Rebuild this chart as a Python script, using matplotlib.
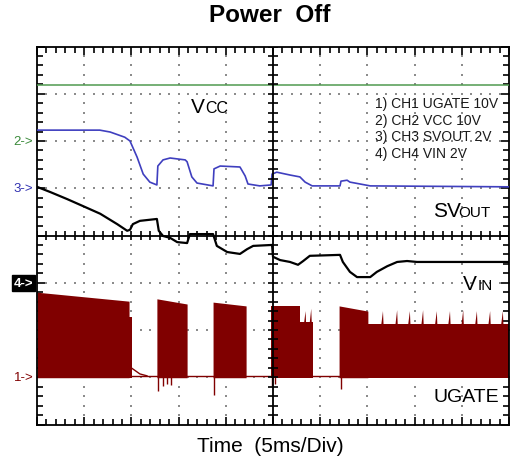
import numpy as np
import matplotlib.pyplot as plt

plt.rcParams['font.family'] = ['Liberation Sans', 'DejaVu Sans']

# time axis in divisions (5ms/div), levels in screen divisions (8 high)
green_level = 7.19

# CH2 VCC (blue)
blue_t = [0, 1.33, 1.55, 1.86, 1.97, 2.12, 2.25, 2.39, 2.54, 2.56, 2.67, 2.82,
          3.14, 3.18, 3.28, 3.39, 3.73, 3.75, 3.88, 4.30, 4.41, 4.47, 4.72,
          4.96, 4.98, 5.08, 5.36, 5.57, 5.68, 5.83, 6.42, 6.44, 6.57, 6.63,
          7.06, 10]
blue_v = [6.23, 6.23, 6.19, 6.08, 6.00, 5.66, 5.30, 5.13, 5.07, 5.47, 5.60, 5.64,
          5.60, 5.56, 5.24, 5.11, 5.05, 5.41, 5.47, 5.45, 5.26, 5.09, 5.05,
          5.07, 5.30, 5.34, 5.28, 5.24, 5.13, 5.05, 5.05, 5.15, 5.17, 5.13,
          5.05, 5.03]

# SVOUT / VIN (black)
black_t = [0, 0.28, 0.64, 0.98, 1.34, 1.70, 1.91, 1.97, 2.03, 2.18, 2.54, 2.58,
           2.67, 2.82, 2.97, 3.18, 3.24, 3.73, 3.81, 4.03, 4.30, 4.45, 4.58,
           4.98, 5.00, 5.15, 5.36, 5.53, 5.64, 5.78, 6.42, 6.48, 6.63, 6.78,
           7.06, 7.20, 7.42, 7.63, 7.84, 8.05, 10]
black_v = [5.03, 4.92, 4.77, 4.62, 4.46, 4.24, 4.10, 4.12, 4.24, 4.31, 4.35, 4.10,
           3.99, 3.95, 3.86, 3.84, 4.03, 4.03, 3.78, 3.65, 3.61, 3.71, 3.78,
           3.80, 3.55, 3.48, 3.44, 3.38, 3.46, 3.57, 3.59, 3.44, 3.23, 3.12,
           3.12, 3.23, 3.35, 3.44, 3.46, 3.44, 3.44]

# CH1 UGATE switching bursts (envelope of the filled region)
ugate_base = 1.02
burst_t0 = [0.00, 1.95, 2.54, 3.73, 4.96, 5.57, 6.40, 7.01]
burst_t1 = [1.95, 2.01, 3.18, 4.43, 5.57, 5.85, 7.01, 10.0]
burst_top0 = [2.80, 2.27, 2.66, 2.59, 2.51, 2.17, 2.51, 2.13]
burst_top1 = [2.61, 2.27, 2.55, 2.51, 2.51, 2.17, 2.40, 2.13]
tail_t = [2.01, 2.18, 2.33]
tail_v = [1.19, 1.07, 1.03]
dip_t = [2.56, 2.66, 2.76, 2.84, 3.75, 4.98, 5.04, 6.44]
dip_v = [0.71, 0.82, 0.85, 0.84, 0.62, 0.80, 0.86, 0.75]
ripple_t = [5.69, 5.81, 7.33, 7.63, 7.90, 8.18, 8.47, 8.75, 9.03, 9.32, 9.60, 9.87]
ripple_v = [2.40, 2.45, 2.40, 2.42, 2.40, 2.42, 2.40, 2.40, 2.42, 2.40, 2.40, 2.40]

legend_lines = ['1) CH1 UGATE 10V', '2) CH2 VCC 10V', '3) CH3 SVOUT 2V', '4) CH4 VIN 2V']

RED = '#800000'
BLUE = '#3f3fbf'
GREEN = '#4f9a4f'

fig = plt.figure(figsize=(5.12, 4.64), dpi=100)
ax = fig.add_axes([37 / 512, 38.5 / 464, 472 / 512, 378 / 464])
ax.set_xlim(0, 10)
ax.set_ylim(0, 8)
for s in ax.spines.values():
    s.set_linewidth(1.3)
    s.set_color('black')

# graticule ticks on the frame: 5 subdivisions per division, pointing in
ax.set_xticks(np.arange(0, 11, 1))
ax.set_yticks(np.arange(0, 9, 1))
ax.set_xticks(np.arange(0, 10.01, 0.2), minor=True)
ax.set_yticks(np.arange(0, 8.01, 0.2), minor=True)
ax.tick_params(which='both', direction='in', top=True, right=True,
               labelbottom=False, labelleft=False, color='black', width=1.2)
ax.tick_params(which='major', length=6)
ax.tick_params(which='minor', length=4)

# dotted graticule
minor_x = np.arange(0, 10.001, 0.2)
minor_y = np.arange(0, 8.001, 0.2)
for gx in [1, 2, 3, 4, 6, 7, 8, 9]:
    ax.plot(np.full_like(minor_y, gx), minor_y, ls='none', marker='s', ms=1.9,
            mew=0, color='#8c8c8c', zorder=1)
for gy in [1, 2, 3, 5, 6, 7]:
    ax.plot(minor_x, np.full_like(minor_x, gy), ls='none', marker='s', ms=1.9,
            mew=0, color='#8c8c8c', zorder=1)

# centre cross with its own subdivision ticks
ax.axhline(4, color='black', lw=1.3, zorder=5)
ax.axvline(5, color='black', lw=1.3, zorder=5)
ax.vlines(minor_x, 4 - 0.1, 4 + 0.1, color='black', lw=1.2, zorder=5)
ax.hlines(minor_y, 5 - 0.1, 5 + 0.1, color='black', lw=1.2, zorder=5)

# traces
ax.axhline(green_level, color=GREEN, lw=1.1, zorder=3)
ax.plot(blue_t, blue_v, color=BLUE, lw=1.2, zorder=3)
ax.plot(black_t, black_v, color='black', lw=1.6, zorder=3)

ax.plot([0, 10], [ugate_base, ugate_base], color=RED, lw=1.0, zorder=2)
ax.plot(tail_t, tail_v, color=RED, lw=1.0, zorder=2)
for t0, t1, a, b in zip(burst_t0, burst_t1, burst_top0, burst_top1):
    ax.fill_between([t0, t1], [ugate_base - 0.03] * 2, [a, b], color=RED,
                    linewidth=0, zorder=2)
ax.vlines(dip_t, ugate_base, dip_v, color=RED, lw=1.0, zorder=2)
for t, v in zip(ripple_t, ripple_v):
    ax.fill([t - 0.035, t, t + 0.012], [2.12, v, 2.12], color=RED, lw=0, zorder=2)

# trace names
ax.text(3.26, 6.61, 'V', fontsize=15, va='baseline', zorder=7)
ax.text(3.56, 6.61, 'CC', fontsize=11.5, va='baseline', zorder=7)
ax.text(8.39, 4.41, 'SV', fontsize=15, va='baseline', zorder=7)
ax.text(8.92, 4.41, 'OUT', fontsize=11, va='baseline', zorder=7)
ax.text(9.03, 2.87, 'V', fontsize=15, va='baseline', zorder=7)
ax.text(9.34, 2.87, 'IN', fontsize=11, va='baseline', zorder=7)
ax.text(8.39, 0.50, 'UGATE', fontsize=14, va='baseline', zorder=7)

for i, line in enumerate(legend_lines):
    ax.text(7.16, 6.80 - i * 0.35, line, fontsize=10, va='center',
            color='#1a1a1a', zorder=7)

# channel reference markers
ax.text(-0.08, 6.0, '2->', color='#3a8a3a', fontsize=9.5, ha='right', va='center', clip_on=False)
ax.text(-0.08, 5.0, '3->', color='#2f2fb0', fontsize=9.5, ha='right', va='center', clip_on=False)
ax.text(-0.08, 3.0, '4->', color='white', fontsize=9.5, ha='right', va='center', clip_on=False,
        fontweight='bold', bbox=dict(facecolor='black', edgecolor='black', pad=1.5))
ax.text(-0.08, 1.0, '1->', color=RED, fontsize=9.5, ha='right', va='center', clip_on=False)

fig.text(0.527, 1 - 15 / 464, 'Power  Off', ha='center', va='center',
         fontsize=17.5, fontweight='bold')
fig.text(0.527, 1 - 447 / 464, 'Time  (5ms/Div)', ha='center', va='center',
         fontsize=15)

fig.savefig('out.png', dpi=100)
